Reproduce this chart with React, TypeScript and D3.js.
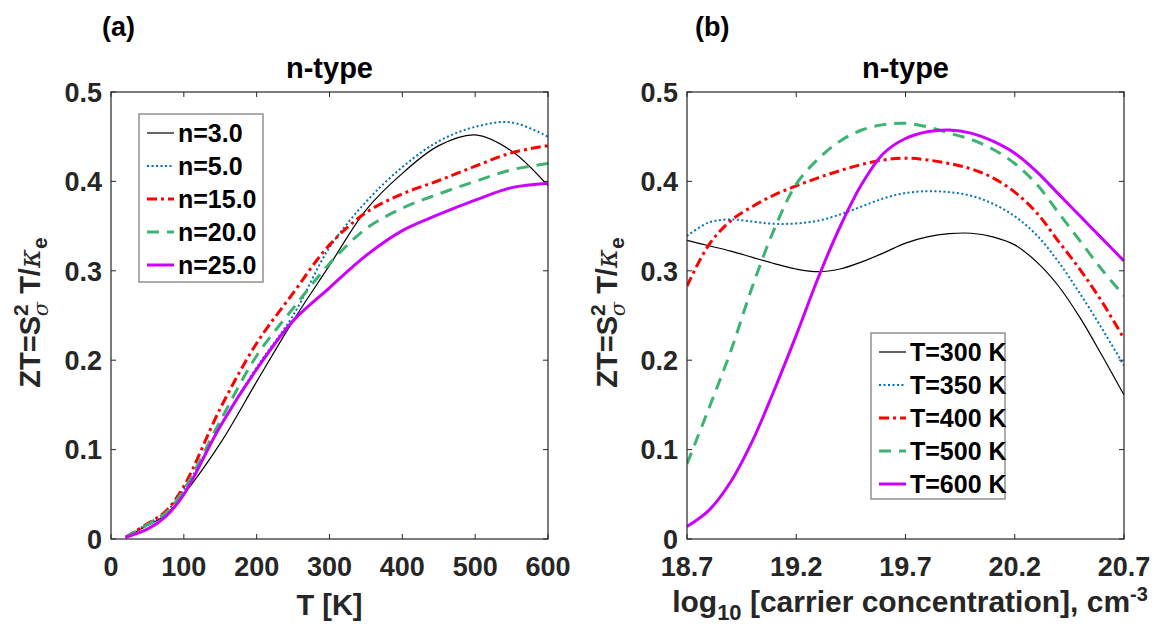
import React from "react";
import * as d3 from "d3";

// ---------- data ----------
const tempsA = [20, 50, 75, 100, 150, 200, 250, 300, 350, 400, 450, 500, 550, 600];
const n3 = [0.002, 0.015, 0.027, 0.05, 0.107, 0.176, 0.244, 0.306, 0.368, 0.409, 0.44, 0.452, 0.434, 0.395];
const n5 = [0.002, 0.017, 0.03, 0.055, 0.126, 0.192, 0.25, 0.326, 0.377, 0.416, 0.445, 0.461, 0.466, 0.45];
const n15 = [0.002, 0.017, 0.031, 0.059, 0.146, 0.219, 0.275, 0.329, 0.365, 0.386, 0.401, 0.417, 0.432, 0.44];
const n20 = [0.002, 0.016, 0.029, 0.055, 0.132, 0.205, 0.258, 0.308, 0.347, 0.37, 0.386, 0.4, 0.413, 0.42];
const n25 = [0.002, 0.011, 0.025, 0.05, 0.126, 0.19, 0.244, 0.281, 0.317, 0.345, 0.363, 0.379, 0.393, 0.398];
const seriesALabels = ["n=3.0", "n=5.0", "n=15.0", "n=20.0", "n=25.0"];

const concB = [18.7, 18.8, 18.9, 19.0, 19.1, 19.2, 19.3, 19.4, 19.5, 19.6, 19.7, 19.8, 19.9, 20.0, 20.1, 20.2, 20.3, 20.4, 20.5, 20.6, 20.7];
const t300 = [0.334, 0.328, 0.322, 0.315, 0.308, 0.302, 0.299, 0.302, 0.31, 0.32, 0.331, 0.338, 0.3415, 0.342, 0.338, 0.329, 0.31, 0.283, 0.247, 0.205, 0.161];
const t350 = [0.339, 0.354, 0.3575, 0.355, 0.3525, 0.353, 0.356, 0.363, 0.372, 0.381, 0.387, 0.389, 0.388, 0.384, 0.375, 0.361, 0.34, 0.31, 0.274, 0.235, 0.194];
const t400 = [0.283, 0.329, 0.356, 0.372, 0.385, 0.395, 0.404, 0.412, 0.419, 0.424, 0.426, 0.424, 0.42, 0.414, 0.404, 0.388, 0.365, 0.333, 0.301, 0.265, 0.224];
const t500 = [0.084, 0.146, 0.21, 0.283, 0.347, 0.397, 0.425, 0.445, 0.4575, 0.4635, 0.465, 0.461, 0.454, 0.447, 0.436, 0.42, 0.397, 0.365, 0.333, 0.301, 0.272];
const t600 = [0.014, 0.032, 0.064, 0.11, 0.167, 0.228, 0.292, 0.349, 0.397, 0.4315, 0.448, 0.4555, 0.4575, 0.454, 0.445, 0.4315, 0.411, 0.386, 0.361, 0.336, 0.311];
const seriesBLabels = ["T=300 K", "T=350 K", "T=400 K", "T=500 K", "T=600 K"];

const xTicksA = [0, 100, 200, 300, 400, 500, 600];
const xTicksB = [18.7, 19.2, 19.7, 20.2, 20.7];
const yTicks = [0, 0.1, 0.2, 0.3, 0.4, 0.5];

// ---------- styles ----------
const styles = [
  { color: "#000000", width: 1.2, dash: "" },
  { color: "#0072BD", width: 2, dash: "2,2.5" },
  { color: "#FF0000", width: 3, dash: "10,4,3,4" },
  { color: "#3CB371", width: 3, dash: "12,8" },
  { color: "#CC00FF", width: 3, dash: "" },
];

const FONT = "'Liberation Sans', Arial, sans-serif";
const AX = "#262626";

type PanelProps = {
  left: number;
  xs: number[];
  series: number[][];
  labels: string[];
  xDomain: [number, number];
  xTicks: number[];
  tickFmt: (v: number) => string;
  legendX: number;
  legendY: number;
  legendW: number;
  legendH: number;
  panelLetter: string;
  letterX: number;
  yLabelX: number;
  xLabel: React.ReactNode;
};

const TOP = 92;
const W = 437;
const H = 447;

function Panel(p: PanelProps) {
  const x = d3.scaleLinear().domain(p.xDomain).range([p.left, p.left + W]);
  const y = d3.scaleLinear().domain([0, 0.5]).range([TOP + H, TOP]);
  const line = d3
    .line<[number, number]>()
    .x((d) => x(d[0]))
    .y((d) => y(d[1]))
    .curve(d3.curveCatmullRom.alpha(0.5));
  const clipId = "clip" + p.panelLetter;
  const tl = 5;
  const lx = p.left + p.legendX;
  const ly = TOP + p.legendY;
  const rowH = 33;
  return (
    <g>
      <defs>
        <clipPath id={clipId}>
          <rect x={p.left} y={TOP} width={W} height={H} />
        </clipPath>
      </defs>
      <rect x={p.left} y={TOP} width={W} height={H} fill="#fff" />
      <g clipPath={`url(#${clipId})`}>
        {p.series.map((s, i) => (
          <path
            key={i}
            d={line(p.xs.map((v, j) => [v, s[j]] as [number, number])) || ""}
            fill="none"
            stroke={styles[i].color}
            strokeWidth={styles[i].width}
            strokeDasharray={styles[i].dash}
            strokeLinejoin="round"
          />
        ))}
      </g>
      <rect x={p.left} y={TOP} width={W} height={H} fill="none" stroke={AX} strokeWidth={1.2} />
      {p.xTicks.map((t, i) => (
        <g key={"xt" + i}>
          <line x1={x(t)} x2={x(t)} y1={TOP + H} y2={TOP + H - tl} stroke={AX} />
          <line x1={x(t)} x2={x(t)} y1={TOP} y2={TOP + tl} stroke={AX} />
          <text
            x={x(t)}
            y={576}
            textAnchor="middle"
            fontFamily={FONT}
            fontWeight="bold"
            fontSize={27}
            fill={AX}
          >
            {p.tickFmt(t)}
          </text>
        </g>
      ))}
      {yTicks.map((t, i) => (
        <g key={"yt" + i}>
          <line x1={p.left} x2={p.left + tl} y1={y(t)} y2={y(t)} stroke={AX} />
          <line x1={p.left + W} x2={p.left + W - tl} y1={y(t)} y2={y(t)} stroke={AX} />
          <text
            x={p.left - 9}
            y={y(t)}
            dy="0.36em"
            textAnchor="end"
            fontFamily={FONT}
            fontWeight="bold"
            fontSize={27}
            fill={AX}
          >
            {t === 0 ? "0" : t.toFixed(1)}
          </text>
        </g>
      ))}
      <text
        x={p.left + W / 2}
        y={78}
        textAnchor="middle"
        fontFamily={FONT}
        fontWeight="bold"
        fontSize={29}
        fill="#000"
      >
        n-type
      </text>
      <text x={p.letterX} y={36} fontFamily={FONT} fontWeight="bold" fontSize={27} fill="#000">
        {`(${p.panelLetter})`}
      </text>
      <text
        transform={`translate(${p.yLabelX},${TOP + H / 2 - 3}) rotate(-90)`}
        textAnchor="middle"
        fontFamily={FONT}
        fontWeight="bold"
        fontSize={29}
        fill={AX}
      >
        ZT=S
        <tspan fontSize={21} dy={-12}>2</tspan>
        <tspan fontSize={21} dy={20} dx={-12} fontStyle="italic" fontWeight="normal" fontFamily="'DejaVu Serif', serif">σ</tspan>
        <tspan dy={-8}> T/</tspan>
        <tspan fontStyle="italic" fontWeight="normal" fontFamily="'DejaVu Serif', serif">κ</tspan>
        <tspan fontSize={21} dy={7}>e</tspan>
      </text>
      {p.xLabel}
      <rect
        x={lx}
        y={ly}
        width={p.legendW}
        height={p.legendH}
        fill="#fff"
        stroke="#808080"
        strokeWidth={1.3}
      />
      {p.labels.map((lab, i) => {
        const yy = ly + 19 + i * rowH;
        return (
          <g key={"lg" + i}>
            <line
              x1={lx + 8}
              x2={lx + 35}
              y1={yy}
              y2={yy}
              stroke={styles[i].color}
              strokeWidth={styles[i].width}
              strokeDasharray={styles[i].dash}
            />
            <text
              x={lx + 39}
              y={yy}
              dy="0.36em"
              fontFamily={FONT}
              fontWeight="bold"
              fontSize={25}
              fill="#000"
            >
              {lab}
            </text>
          </g>
        );
      })}
    </g>
  );
}

export default function App() {
  const seriesA = [n3, n5, n15, n20, n25];
  const seriesB = [t300, t350, t400, t500, t600];
  return (
    <svg
      width={1154}
      height={641}
      style={{ position: "absolute", left: 0, top: 0, background: "#fff" }}
    >
      <rect x={0} y={0} width={1154} height={641} fill="#fff" />
      <Panel
        left={111}
        xs={tempsA}
        series={seriesA}
        labels={seriesALabels}
        xDomain={[0, 600]}
        xTicks={xTicksA}
        tickFmt={(v) => String(v)}
        legendX={28}
        legendY={22}
        legendW={124}
        legendH={168}
        panelLetter="a"
        letterX={102}
        yLabelX={40}
        xLabel={
          <text
            x={111 + W / 2}
            y={615}
            textAnchor="middle"
            fontFamily={FONT}
            fontWeight="bold"
            fontSize={29}
            fill={AX}
          >
            T [K]
          </text>
        }
      />
      <Panel
        left={687}
        xs={concB}
        series={seriesB}
        labels={seriesBLabels}
        xDomain={[18.7, 20.7]}
        xTicks={xTicksB}
        tickFmt={(v) => v.toFixed(1)}
        legendX={184}
        legendY={241}
        legendW={134}
        legendH={166}
        panelLetter="b"
        letterX={695}
        yLabelX={617}
        xLabel={
          <text
            x={910}
            y={612}
            textAnchor="middle"
            fontFamily={FONT}
            fontWeight="bold"
            fontSize={30}
            fill={AX}
          >
            log
            <tspan fontSize={22} dy={8}>10</tspan>
            <tspan dy={-8}> [carrier concentration], cm</tspan>
            <tspan fontSize={20} dy={-11}>-3</tspan>
          </text>
        }
      />
    </svg>
  );
}
